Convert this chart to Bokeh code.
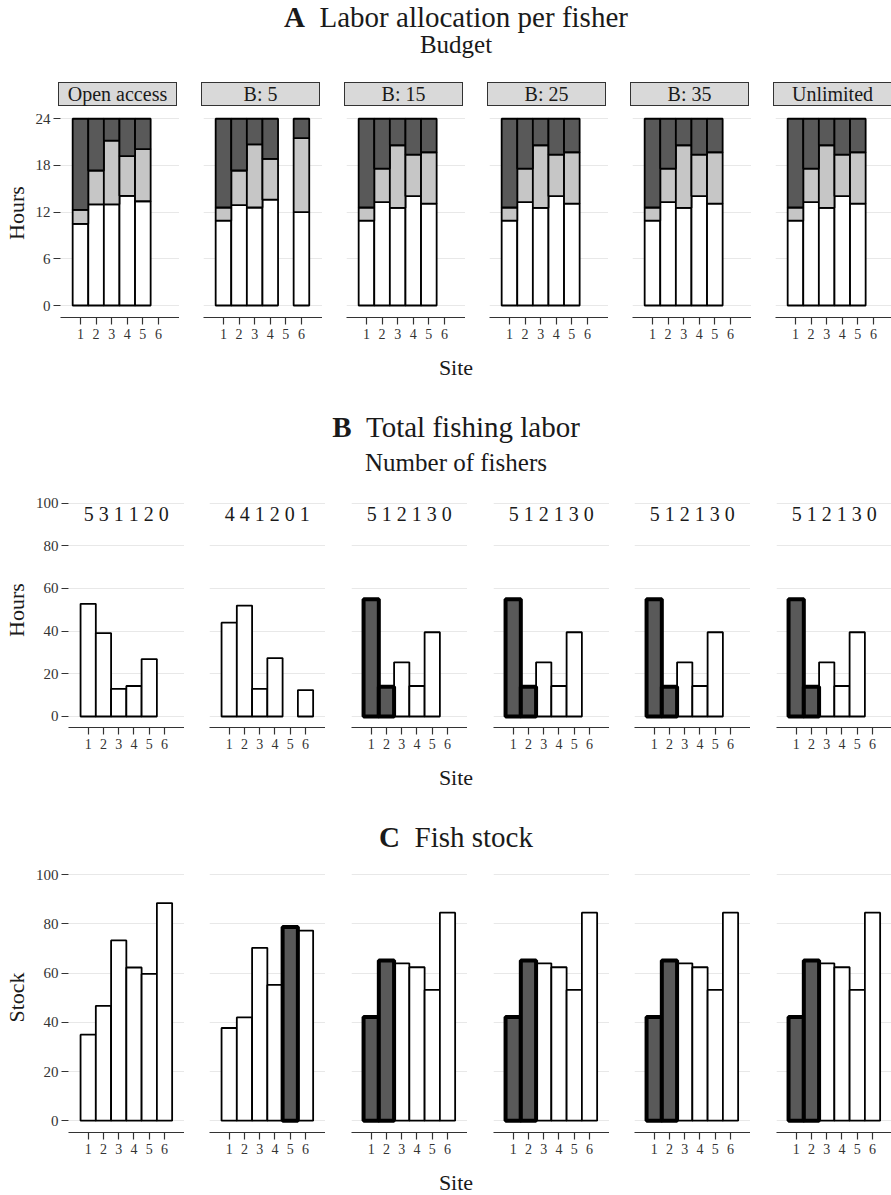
import numpy as np
from bokeh.plotting import figure
from bokeh.models import Range1d, FixedTicker, Div
from bokeh.layouts import row, column
from bokeh.core.properties import value
from bokeh.embed import file_html
from bokeh.resources import INLINE

FONT = "Liberation Serif"

# ---------------- data ----------------
sites = [1, 2, 3, 4, 5, 6]
budgets = ["Open access", "B: 5", "B: 15", "B: 25", "B: 35", "Unlimited"]

# A: hours per fisher (stacked: fishing / travel / rest), one list per budget
fishing_hours = [
    [10.5, 13.0, 13.0, 14.1, 13.4, 0.0],
    [10.9, 12.9, 12.6, 13.6, 0.0, 12.0],
    [10.9, 13.3, 12.55, 14.05, 13.1, 0.0],
    [10.9, 13.3, 12.55, 14.05, 13.1, 0.0],
    [10.9, 13.3, 12.55, 14.05, 13.1, 0.0],
    [10.9, 13.3, 12.55, 14.05, 13.1, 0.0],
]
travel_hours = [
    [1.8, 4.35, 8.2, 5.1, 6.7, 0.0],
    [1.7, 4.45, 8.1, 5.25, 0.0, 9.5],
    [1.7, 4.3, 8.05, 5.35, 6.6, 0.0],
    [1.7, 4.3, 8.05, 5.35, 6.6, 0.0],
    [1.7, 4.3, 8.05, 5.35, 6.6, 0.0],
    [1.7, 4.3, 8.05, 5.35, 6.6, 0.0],
]
rest_hours = [
    [11.7, 6.65, 2.8, 4.8, 3.9, 0.0],
    [11.4, 6.65, 3.3, 5.15, 0.0, 2.5],
    [11.4, 6.4, 3.4, 4.6, 4.3, 0.0],
    [11.4, 6.4, 3.4, 4.6, 4.3, 0.0],
    [11.4, 6.4, 3.4, 4.6, 4.3, 0.0],
    [11.4, 6.4, 3.4, 4.6, 4.3, 0.0],
]

# B: total fishing labor (hours) per site
total_labor = [
    [52.8, 39.1, 12.9, 14.3, 26.9, 0.0],
    [44.0, 52.0, 12.9, 27.4, 0.0, 12.4],
    [55.0, 14.0, 25.4, 14.3, 39.5, 0.0],
    [55.0, 14.0, 25.4, 14.3, 39.5, 0.0],
    [55.0, 14.0, 25.4, 14.3, 39.5, 0.0],
    [55.0, 14.0, 25.4, 14.3, 39.5, 0.0],
]
labor_highlight = [
    [0, 0, 0, 0, 0, 0],
    [0, 0, 0, 0, 0, 0],
    [1, 1, 0, 0, 0, 0],
    [1, 1, 0, 0, 0, 0],
    [1, 1, 0, 0, 0, 0],
    [1, 1, 0, 0, 0, 0],
]
n_fishers = [
    [5, 3, 1, 1, 2, 0],
    [4, 4, 1, 2, 0, 1],
    [5, 1, 2, 1, 3, 0],
    [5, 1, 2, 1, 3, 0],
    [5, 1, 2, 1, 3, 0],
    [5, 1, 2, 1, 3, 0],
]

# C: fish stock per site
fish_stock = [
    [35.0, 46.7, 73.3, 62.3, 59.7, 88.5],
    [37.7, 42.0, 70.3, 55.2, 78.8, 77.3],
    [42.2, 65.1, 64.0, 62.4, 53.2, 84.6],
    [42.2, 65.1, 64.0, 62.4, 53.2, 84.6],
    [42.2, 65.1, 64.0, 62.4, 53.2, 84.6],
    [42.2, 65.1, 64.0, 62.4, 53.2, 84.6],
]
stock_highlight = [
    [0, 0, 0, 0, 0, 0],
    [0, 0, 0, 0, 1, 0],
    [1, 1, 0, 0, 0, 0],
    [1, 1, 0, 0, 0, 0],
    [1, 1, 0, 0, 0, 0],
    [1, 1, 0, 0, 0, 0],
]

hours_ticks = [0, 6, 12, 18, 24]
pct_ticks = [0, 20, 40, 60, 80, 100]

# ---------------- styling ----------------
WHITE = "#ffffff"
LIGHT = "#c6c6c6"
DARK = "#595959"
GRID = "#e8e8e8"
AX = "#333333"
TXT = "#1a1a1a"
PAGE_W = 891


def style_fig(p, yticks, show_y, ylabel):
    p.outline_line_color = None
    p.xgrid.visible = False
    p.ygrid.ticker = FixedTicker(ticks=yticks)
    p.ygrid.grid_line_color = GRID
    p.ygrid.grid_line_width = 1.2
    xa = p.xaxis[0]
    xa.ticker = FixedTicker(ticks=sites)
    xa.axis_line_color = AX
    xa.axis_line_width = 1.2
    xa.major_tick_line_color = AX
    xa.major_tick_line_width = 1.2
    xa.major_tick_out = 7
    xa.major_tick_in = 0
    xa.minor_tick_line_color = None
    xa.major_label_text_font = FONT
    xa.major_label_text_font_size = "14px"
    xa.major_label_text_color = AX
    xa.major_label_standoff = 4
    ya = p.yaxis[0]
    if show_y:
        ya.ticker = FixedTicker(ticks=yticks)
        ya.axis_line_color = None
        ya.major_tick_line_color = AX
        ya.major_tick_line_width = 1.2
        ya.major_tick_out = 7
        ya.major_tick_in = 0
        ya.minor_tick_line_color = None
        ya.major_label_text_font = FONT
        ya.major_label_text_font_size = "15px"
        ya.major_label_text_color = AX
        ya.major_label_standoff = 3
        ya.axis_label = ylabel
        ya.axis_label_text_font = FONT
        ya.axis_label_text_font_size = "22px"
        ya.axis_label_text_font_style = "normal"
        ya.axis_label_text_color = TXT
        ya.axis_label_standoff = 4
    else:
        ya.visible = False


def make_fig(i, frame_w, x_start, unit_px, y_start, y_end, frame_h, yticks,
             first_left, gap, ylabel):
    x_end = x_start + frame_w / unit_px
    p = figure(frame_width=frame_w, frame_height=frame_h,
               x_range=Range1d(x_start, x_end), y_range=Range1d(y_start, y_end),
               output_backend="svg", toolbar_location=None,
               min_border_left=(first_left if i == 0 else gap),
               min_border_right=0, min_border_top=0, min_border_bottom=35,
               background_fill_color="white", border_fill_color="white")
    style_fig(p, yticks, i == 0, ylabel)
    return p


# ---------------- row A ----------------
A_LEFT = 58
A_W = 119
A_gaps = [24, 24, 24, 24, 24]
rowA = []
for i in range(6):
    fw = A_W if i < 5 else PAGE_W - (A_LEFT + A_W * 5 + sum(A_gaps))
    p = make_fig(i, fw, -0.28, A_W / 7.63, -1.54, 25.32, 209, hours_ticks,
                 A_LEFT, A_gaps[i - 1] if i > 0 else 0, "Hours")
    f = np.array(fishing_hours[i])
    t = np.array(travel_hours[i])
    r = np.array(rest_hours[i])
    tot = f + t + r
    m = tot > 0
    x = np.array(sites)[m]
    p.vbar(x=x, width=1, bottom=0, top=f[m], fill_color=WHITE,
           line_color="black", line_width=1.8)
    p.vbar(x=x, width=1, bottom=f[m], top=(f + t)[m], fill_color=LIGHT,
           line_color="black", line_width=1.8)
    p.vbar(x=x, width=1, bottom=(f + t)[m], top=tot[m], fill_color=DARK,
           line_color="black", line_width=1.8)
    rowA.append(p)

# ---------------- rows B and C ----------------
BC_LEFT = 67
BC_W = 116
BC_gaps = [25, 26, 26, 25, 26]


def bar_row(values, highlight, yl, y_start, y_end, frame_h, labels=None):
    figs = []
    for i in range(6):
        fw = BC_W if i < 5 else PAGE_W - (BC_LEFT + BC_W * 5 + sum(BC_gaps))
        p = make_fig(i, fw, -0.29, BC_W / 7.6, y_start, y_end, frame_h,
                     pct_ticks, BC_LEFT, BC_gaps[i - 1] if i > 0 else 0, yl)
        v = np.array(values[i])
        h = np.array(highlight[i]).astype(bool)
        xs = np.array(sites)
        m = (v > 0) & ~h
        p.vbar(x=xs[m], width=1, bottom=0, top=v[m], fill_color=WHITE,
               line_color="black", line_width=1.8)
        mh = (v > 0) & h
        if mh.any():
            p.vbar(x=xs[mh], width=1, bottom=0, top=v[mh], fill_color=DARK,
                   line_color="black", line_width=4)
        if labels is not None:
            p.text(x=[float(np.mean(sites))], y=[max(pct_ticks)],
                   text=[" ".join(str(n) for n in labels[i])],
                   text_font=value(FONT), text_font_size="20px",
                   text_align="center", text_baseline="top", text_color=TXT)
        figs.append(p)
    return figs


rowB = bar_row(total_labor, labor_highlight, "Hours", -5.16, 105.0, 235,
               labels=n_fishers)
rowC = bar_row(fish_stock, stock_highlight, "Stock", -4.8, 105.0, 270)


# ---------------- text blocks ----------------
def span(html, cx, baseline, fs, w=600):
    top = baseline - 0.8375 * fs
    return (f'<div style="position:absolute; left:{cx - w / 2:.1f}px; width:{w}px; '
            f'top:{top:.1f}px; text-align:center; font-family:\'{FONT}\'; '
            f'font-size:{fs}px; line-height:{fs}px; white-space:nowrap; '
            f'color:{TXT}">{html}</div>')


def block(inner, h):
    html = (f'<div style="position:relative; width:{PAGE_W}px; height:{h}px;">'
            + inner + '</div>')
    return Div(text=html, width=PAGE_W, height=h, margin=(0, 0, 0, 0),
               styles={"overflow": "visible"})


CX = 456
title_a = span("<b>A</b>&nbsp;&nbsp;Labor allocation per fisher", CX, 27.3, 29)
budget_t = span("Budget", CX, 53.3, 25)
strips = ""
left = A_LEFT
for i, b in enumerate(budgets):
    w = A_W if i < 5 else PAGE_W - left
    border = "1px solid #333333" if i < 5 else "1px solid #333333; border-right:none"
    strips += (f'<div style="position:absolute; left:{left}px; top:82px; width:{w}px; '
               f'height:24px; box-sizing:border-box; background:#d9d9d9; '
               f'border:{border};"></div>')
    strips += span(b, left + A_W / 2, 100.5, 20, w=A_W - 2)
    left += A_W + (A_gaps[i] if i < 5 else 0)
div1 = block(title_a + budget_t + strips, 108)

div2 = block(span("Site", CX, 23, 22)
             + span("<b>B</b>&nbsp;&nbsp;Total fishing labor", CX, 85, 29)
             + span("Number of fishers", CX, 119, 25), 140)
div3 = block(span("Site", CX, 23, 22)
             + span("<b>C</b>&nbsp;&nbsp;Fish stock", CX, 85, 29), 100)
div4 = block(span("Site", CX, 23, 22), 28)

layout = column(div1, row(*rowA, spacing=0), div2, row(*rowB, spacing=0),
                div3, row(*rowC, spacing=0), div4, spacing=0)

open("out.html", "w").write(file_html(layout, INLINE))
